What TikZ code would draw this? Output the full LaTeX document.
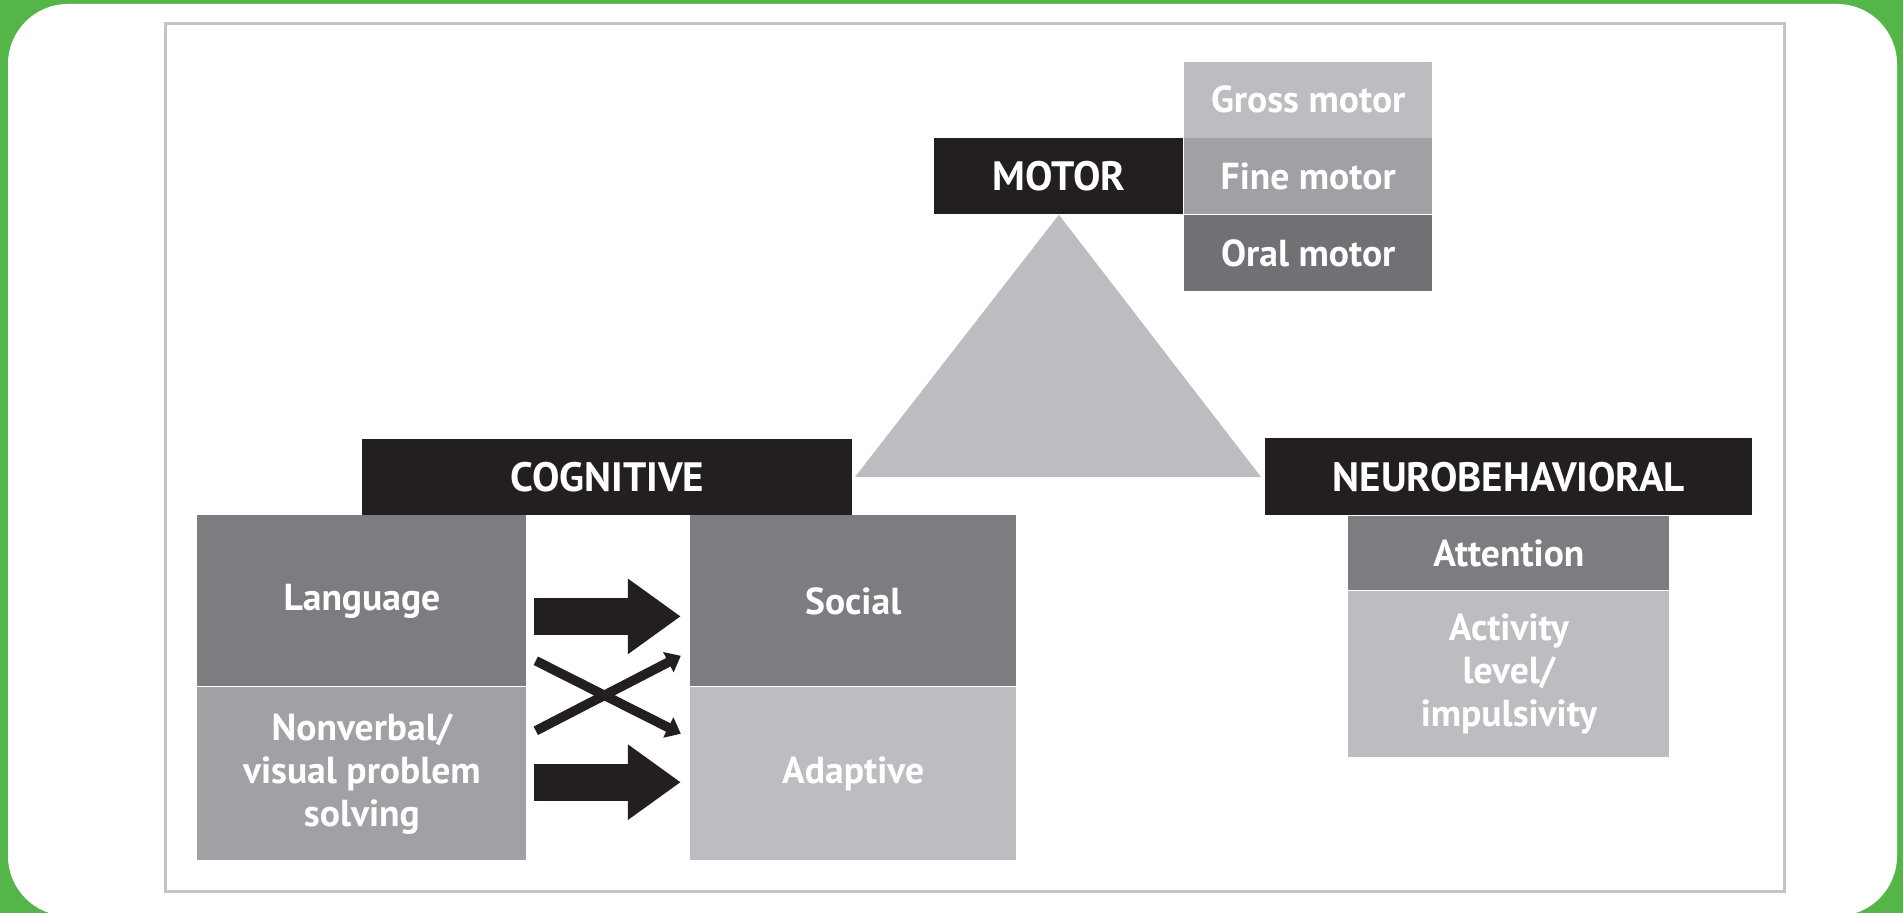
\documentclass[tikz,border=0pt]{standalone}
\usepackage{fontspec}
\setmainfont{PT Sans}
\usetikzlibrary{positioning, arrows.meta}
\definecolor{framegreen}{RGB}{84,182,72}
\definecolor{framegrey}{RGB}{196,196,198}
\definecolor{boxblack}{RGB}{35,31,32}
\definecolor{greylight}{RGB}{188,189,192}
\definecolor{greymid}{RGB}{160,161,164}
\definecolor{greydark}{RGB}{124,125,128}
\definecolor{greydeep}{RGB}{112,113,116}

\begin{document}
\begin{tikzpicture}[
  x=0.5pt, y=-0.5pt,
  node distance=0pt,
  head/.style={fill=boxblack, text=white, inner sep=0pt, anchor=north west,
               font=\fontsize{20.5}{24}\selectfont\bfseries},
  sub/.style={text=white, inner sep=0pt, align=center,
              font=\fontsize{18.8}{21.5}\selectfont\bfseries},
  bigarrow/.style={-{Triangle[length=26.5pt,width=36pt]}, line width=18.5pt, boxblack},
  crossarrow/.style={-{Triangle[length=7pt,width=11pt]}, line width=4.75pt, boxblack}
]
  \useasboundingbox (0,0) rectangle (1903,913);
  \fill[framegreen] (0,0) rectangle (1903,913);
  \fill[white, rounded corners=30pt] (8,4) rectangle (1897,916);
  \draw[framegrey, line width=1.5pt] (165,24) rectangle (1784,892);

  % motor
  \node[head, minimum width=124.5pt, minimum height=38pt] (motor) at (934,138) {MOTOR};
  \node[sub, fill=greymid, minimum width=124pt, minimum height=38pt, right=of motor] (fine) {Fine motor};
  \node[sub, fill=greylight, minimum width=124pt, minimum height=38pt, above=of fine] (gross) {Gross motor};
  \node[sub, fill=greydeep, minimum width=124pt, minimum height=38pt, below=of fine] (oral) {Oral motor};
  \fill[greylight] (motor.south) -- (855,477) -- (1261,477) -- cycle;

  % cognitive
  \node[head, minimum width=245pt, minimum height=38pt] (cog) at (362,439) {COGNITIVE};
  \node[sub, fill=greydark, minimum width=164.5pt, minimum height=85.5pt, anchor=north west] (lang) at (197,515) {Language};
  \node[sub, fill=greymid, minimum width=164.5pt, minimum height=86.5pt, below=of lang] (nonverbal) {Nonverbal/\\visual problem\\solving};
  \node[sub, fill=greydark, minimum width=163pt, minimum height=85.5pt, right=81.5pt of lang] (social) {Social};
  \node[sub, fill=greylight, minimum width=163pt, minimum height=86.5pt, below=of social] (adaptive) {Adaptive};

  \draw[bigarrow] ([xshift=3.5pt,yshift=-7.75pt]lang.east) -- ([xshift=-4.5pt,yshift=-7.75pt]social.west);
  \draw[bigarrow] ([xshift=3.5pt,yshift=-4.25pt]nonverbal.east) -- ([xshift=-4.5pt,yshift=-4.25pt]adaptive.west);
  \draw[crossarrow] ([xshift=4.5pt,yshift=13pt]lang.south east) -- ([xshift=-4.5pt,yshift=-23.5pt]social.south west);
  \draw[crossarrow] ([xshift=4.5pt,yshift=-22pt]lang.south east) -- ([xshift=-4.5pt,yshift=15.5pt]social.south west);

  % neurobehavioral
  \node[head, minimum width=243.5pt, minimum height=38.5pt] (neuro) at (1265,438) {NEUROBEHAVIORAL};
  \node[sub, fill=greydark, minimum width=160.5pt, minimum height=37pt, below=of neuro] (attn) {Attention};
  \node[sub, fill=greylight, minimum width=160.5pt, minimum height=83pt, below=of attn] (activity) {Activity\\level/\\impulsivity};
\end{tikzpicture}
\end{document}
